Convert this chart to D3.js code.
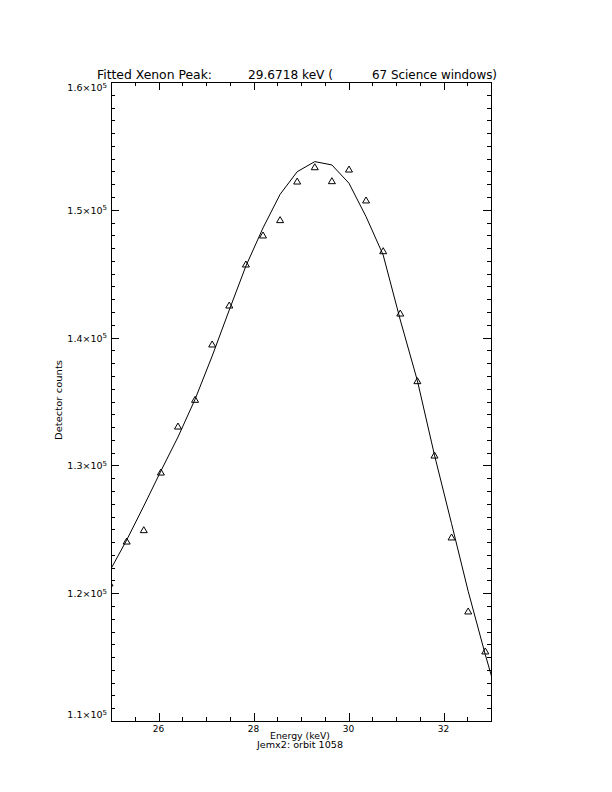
<!DOCTYPE html>
<html><head><meta charset="utf-8">
<script src="https://cdn.jsdelivr.net/npm/d3@7"></script>
<style>body{margin:0;background:#fff}</style>
</head><body><svg id="c" width="612" height="792"></svg>
<script>
// Data
const energy = [24.97, 25.33, 25.69, 26.05, 26.41, 26.77, 27.13, 27.49, 27.84, 28.20, 28.56, 28.92,
  29.29, 29.65, 30.01, 30.37, 30.73, 31.09, 31.45, 31.81, 32.17, 32.52, 32.88];
const counts = [120800, 124080, 124970, 129480, 133080, 135170, 139500, 142550, 145760, 148030, 149230, 152250,
  153370, 152280, 153190, 150770, 146800, 141920, 136630, 130810, 124400, 118610, 115480];
const fitEnergy = [24.97, 25.33, 25.69, 26.05, 26.41, 26.77, 27.13, 27.49, 27.84, 28.20, 28.56, 28.92,
  29.29, 29.65, 30.01, 30.37, 30.73, 31.09, 31.45, 31.81, 32.17, 32.52, 32.88, 33.24];
const fitCounts = [121710, 124160, 126820, 129560, 132220, 135170, 138560, 142160, 145600, 148580, 151210, 152980,
  153770, 153510, 152080, 149460, 146460, 141380, 136630, 130810, 125440, 120150, 115190, 110550];
const xMajorTicks = [26, 28, 30, 32];
const xTickLabels = ["26", "28", "30", "32"];
const yMajorTicks = [110000, 120000, 130000, 140000, 150000, 160000];
const yTickLabels = ["1.1", "1.2", "1.3", "1.4", "1.5", "1.6"];
const titleParts = ["Fitted Xenon Peak:", "29.6718 keV (", "67 Science windows)"];
const xTitle = "Energy (keV)";
const subTitle = "Jemx2: orbit 1058";
const yTitle = "Detector counts";

const svg = d3.select("#c");
const L = 111, R = 491, T = 82, B = 721;
const x = d3.scaleLinear().domain([25, 33]).range([L, R]);
const y = d3.scaleLinear().domain([110000, 160000]).range([B, T]);
const font = "DejaVu Sans, sans-serif";

svg.append("defs").append("clipPath").attr("id", "pc")
  .append("rect").attr("x", L).attr("y", T).attr("width", R - L).attr("height", B - T);

// Frame
svg.append("rect").attr("x", L).attr("y", T).attr("width", R - L).attr("height", B - T)
  .attr("fill", "none").attr("stroke", "#000").attr("stroke-width", 1).attr("shape-rendering", "crispEdges");

const xMinor = d3.range(25, 33.001, 0.5);
const yMinor = d3.range(110000, 160001, 1000);
const g = svg.append("g").attr("stroke", "#000").attr("stroke-width", 1).attr("shape-rendering", "crispEdges");
xMinor.forEach(v => {
  const len = xMajorTicks.includes(v) ? 8 : 4;
  const px = Math.round(x(v)) + 0.5;
  g.append("line").attr("x1", px).attr("x2", px).attr("y1", B).attr("y2", B - len);
  g.append("line").attr("x1", px).attr("x2", px).attr("y1", T).attr("y2", T + len);
});
yMinor.forEach(v => {
  const len = yMajorTicks.includes(v) ? 8 : 4;
  const py = Math.round(y(v)) + 0.5;
  g.append("line").attr("x1", L).attr("x2", L + len).attr("y1", py).attr("y2", py);
  g.append("line").attr("x1", R).attr("x2", R - len).attr("y1", py).attr("y2", py);
});

// X tick labels
svg.selectAll(".xl").data(xMajorTicks).enter().append("text")
  .attr("x", d => x(d)).attr("y", 732).attr("text-anchor", "middle")
  .attr("font-family", font).attr("font-size", 9).text((d, i) => xTickLabels[i]);

// Y tick labels
yMajorTicks.forEach((v, i) => {
  const cy = Math.min(Math.max(y(v) + 4, 91), 718);
  const t = svg.append("text").attr("x", 107).attr("y", cy).attr("text-anchor", "end")
    .attr("font-family", font).attr("font-size", 9.5);
  t.append("tspan").text(yTickLabels[i] + "\u00d710");
  t.append("tspan").attr("font-size", 7).attr("dy", -3.5).text("5");
});

// Title
const tx = [97, 248, 372], tw = [115, 85, 125];
titleParts.forEach((s, i) => {
  svg.append("text").attr("x", tx[i]).attr("y", 79).attr("font-family", font).attr("font-size", 12)
    .attr("textLength", tw[i]).attr("lengthAdjust", "spacingAndGlyphs").text(s);
});

svg.append("text").attr("x", 300).attr("y", 739).attr("text-anchor", "middle")
  .attr("font-family", font).attr("font-size", 9).attr("textLength", 60).attr("lengthAdjust", "spacingAndGlyphs").text(xTitle);
svg.append("text").attr("x", 300).attr("y", 748).attr("text-anchor", "middle")
  .attr("font-family", font).attr("font-size", 9).attr("textLength", 86).attr("lengthAdjust", "spacingAndGlyphs").text(subTitle);
svg.append("text").attr("transform", "translate(62,400) rotate(-90)").attr("text-anchor", "middle")
  .attr("font-family", font).attr("font-size", 9).attr("textLength", 80).attr("lengthAdjust", "spacingAndGlyphs").text(yTitle);

const plot = svg.append("g").attr("clip-path", "url(#pc)");
// Fit line
const fitData = fitEnergy.map((e, i) => [e, fitCounts[i]]);
plot.append("path").datum(fitData)
  .attr("d", d3.line().x(d => x(d[0])).y(d => y(d[1])))
  .attr("fill", "none").attr("stroke", "#000").attr("stroke-width", 1);

// Triangles
const pts = energy.map((e, i) => [e, counts[i]]);
plot.selectAll(".tri").data(pts).enter().append("path")
  .attr("d", d => {
    const cx = x(d[0]), cy = y(d[1]);
    return `M${cx - 3.5},${cy + 3}L${cx},${cy - 3}L${cx + 3.5},${cy + 3}Z`;
  })
  .attr("fill", "none").attr("stroke", "#000").attr("stroke-width", 1);
</script>
</body></html>
